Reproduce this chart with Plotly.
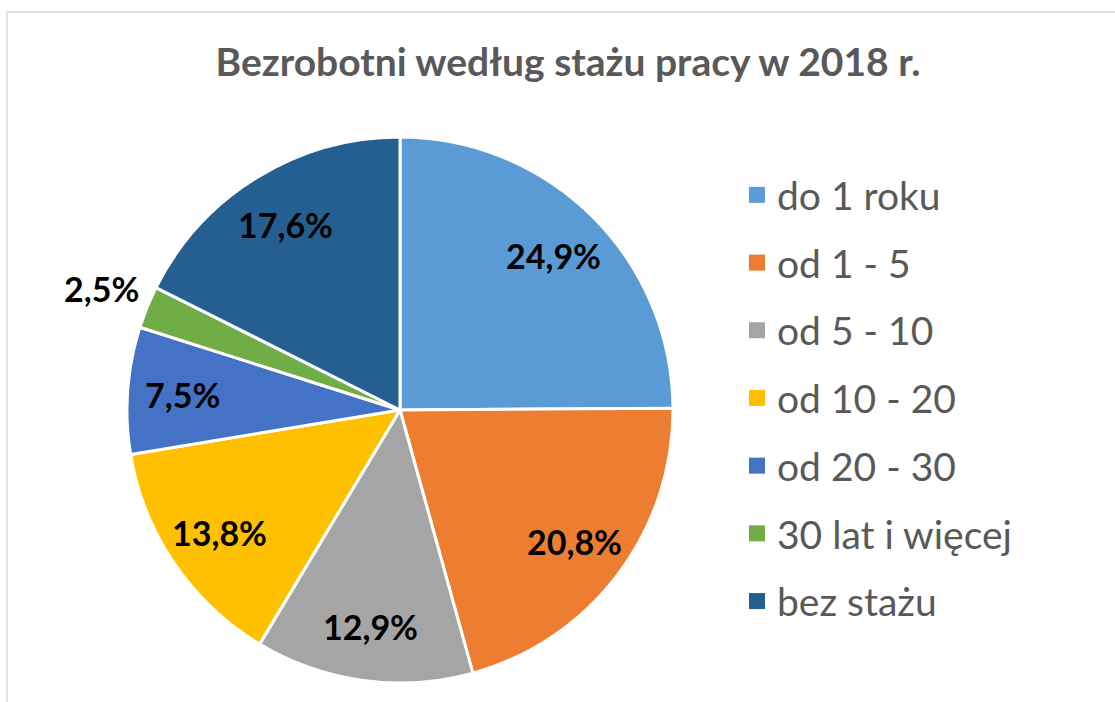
import math
import plotly.graph_objects as go

categories = ["do 1 roku", "od 1 - 5", "od 5 - 10", "od 10 - 20", "od 20 - 30", "30 lat i więcej", "bez stażu"]
values = [24.9, 20.8, 12.9, 13.8, 7.5, 2.5, 17.6]
colors = ["#5B9BD5", "#ED7D31", "#A5A5A5", "#FFC000", "#4472C4", "#70AD47", "#255E91"]
title_text = "Bezrobotni według stażu pracy w 2018 r."

W, H = 1115, 702
cx, cy, R = 400, 410, 273

fig = go.Figure()
fig.add_trace(go.Pie(
    labels=categories,
    values=values,
    sort=False,
    direction="clockwise",
    rotation=0,
    marker=dict(colors=colors, line=dict(color="white", width=3)),
    textinfo="none",
    domain=dict(x=[(cx - R) / W, (cx + R) / W], y=[1 - (cy + R) / H, 1 - (cy - R) / H]),
    showlegend=False,
    hoverinfo="label+percent",
))

# data labels placed along each slice's bisector (derived from the values)
total = sum(values)
cum = 0.0
for v in values:
    mid = (cum + v / 2) / total * 2 * math.pi
    cum += v
    frac = 1.18 if v < 5 else 0.80
    px = cx + frac * R * math.sin(mid)
    py = cy - frac * R * math.cos(mid)
    fig.add_annotation(
        x=px / W, y=1 - py / H, xref="paper", yref="paper",
        text="<b>" + f"{v:.1f}%".replace(".", ",") + "</b>",
        showarrow=False, xanchor="center", yanchor="middle",
        font=dict(family="Lato", size=34, color="black"),
    )

# legend entries
for cat, col in zip(categories, colors):
    fig.add_trace(go.Scatter(
        x=[None], y=[None], mode="markers", name=cat,
        marker=dict(symbol="square", size=16, color=col),
        legendgroup=cat, showlegend=True,
    ))

fig.add_shape(type="rect", xref="paper", yref="paper",
              x0=7 / W, x1=1.05, y0=-0.05, y1=1 - 12 / H,
              line=dict(color="#D9D9D9", width=1.5), fillcolor="rgba(0,0,0,0)", layer="below")

fig.update_layout(
    width=W, height=H,
    margin=dict(l=0, r=0, t=0, b=0),
    paper_bgcolor="white", plot_bgcolor="white",
    title=dict(text="<b>" + title_text + "</b>", x=568 / W, xanchor="center",
               y=1 - 62 / H, yanchor="middle",
               font=dict(family="Lato", size=39, color="#595959")),
    xaxis=dict(visible=False), yaxis=dict(visible=False),
    legend=dict(x=737 / W, y=1 - 163 / H, xanchor="left", yanchor="top",
                font=dict(family="Lato", size=39, color="#595959"),
                tracegroupgap=14, bgcolor="rgba(0,0,0,0)"),
)

fig.write_html("out.html", config={"displayModeBar": False},
               post_script="document.body.style.margin='0';")
